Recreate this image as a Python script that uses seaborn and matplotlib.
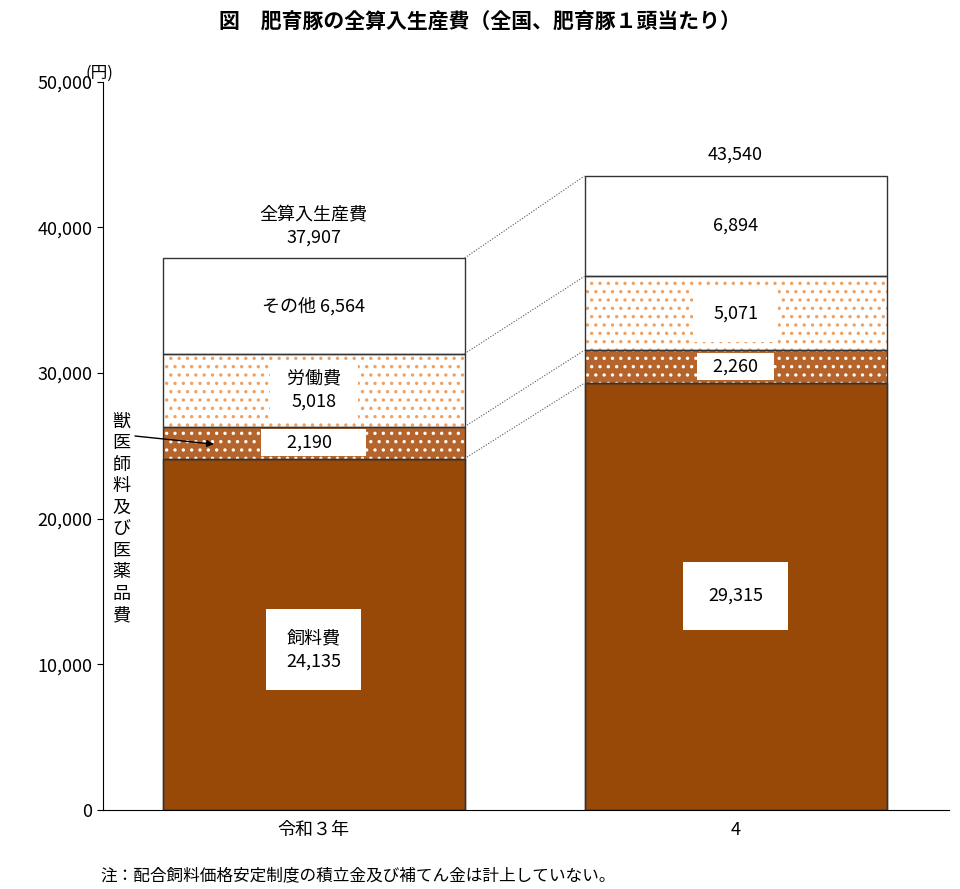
import matplotlib
matplotlib.use("Agg")
import matplotlib.pyplot as plt
import seaborn as sns
import pandas as pd
import numpy as np

plt.rcParams["font.family"] = "Noto Sans CJK JP"
plt.rcParams["hatch.linewidth"] = 1.2

years = ["令和３年", "4"]
feed = [24135, 29315]
vet = [2190, 2260]
labor = [5018, 5071]
other = [6564, 6894]
total = [37907, 43540]
yticks = [0, 10000, 20000, 30000, 40000, 50000]

fig = plt.figure(figsize=(9.6, 8.89), dpi=100)
ax = fig.add_axes([0.107, 0.0889, 0.882, 0.819])
W = 0.716
df = pd.DataFrame({"year": years, "feed": feed})
sns.barplot(data=df, x="year", y="feed", color="#984807", width=W, ax=ax,
            edgecolor="#333333", linewidth=1, saturation=1)
x = np.arange(len(years))
b1 = np.array(feed)
b2 = b1 + np.array(vet)
b3 = b2 + np.array(labor)
ax.bar(x, vet, W, bottom=b1, color="#B5652B", edgecolor="white", hatch="..", linewidth=0)
ax.bar(x, labor, W, bottom=b2, color="white", edgecolor="#F0A060", hatch="..", linewidth=0)
ax.bar(x, other, W, bottom=b3, color="white", linewidth=0)
for bot, h in [(np.zeros(2), feed), (b1, vet), (b2, labor), (b3, other)]:
    ax.bar(x, h, W, bottom=bot, fill=False, edgecolor="#333333", linewidth=1)

# connectors
for lev in [b1, b2, b3, np.array(total)]:
    ax.plot([W / 2, 1 - W / 2], [lev[0], lev[1]], ls=(0, (1, 1.5)), color="#555555", lw=0.8)

box = dict(facecolor="white", edgecolor="none", pad=3)
fs = 13
# bar 1
ax.text(0, 11000, "飼料費\n24,135", ha="center", va="center", fontsize=fs,
        bbox=dict(facecolor="white", edgecolor="none", boxstyle="square,pad=1.1"), linespacing=1.4)
ax.text(0, 25230, "　 2,190 　  ", ha="center", va="center", fontsize=fs, bbox=box)
ax.text(0, 28830, "  労働費  \n5,018", ha="center", va="center", fontsize=fs,
        bbox=dict(facecolor="white", edgecolor="none", boxstyle="square,pad=0.5"), linespacing=1.4)
ax.text(0, 34600, "その他 6,564", ha="center", va="center", fontsize=fs)
ax.text(0, 40100, "全算入生産費\n37,907", ha="center", va="center", fontsize=fs, linespacing=1.3)
# bar 2
ax.text(1, 14700, "29,315", ha="center", va="center", fontsize=fs,
        bbox=dict(facecolor="white", edgecolor="none", boxstyle="square,pad=1.4"))
ax.text(1, 30445, "   2,260   ", ha="center", va="center", fontsize=fs, bbox=box)
ax.text(1, 34100, "5,071", ha="center", va="center", fontsize=fs,
        bbox=dict(facecolor="white", edgecolor="none", boxstyle="square,pad=1.1"))
ax.text(1, 40100, "6,894", ha="center", va="center", fontsize=fs)
ax.text(1, 45000, "43,540", ha="center", va="center", fontsize=fs)

# vertical label
ax.text(-0.455, 20000, "\n".join("獣医師料及び医薬品費"), ha="center", va="center",
        fontsize=13, linespacing=1.25)
ax.annotate("", xy=(-0.23, 25100), xytext=(-0.43, 25700),
            arrowprops=dict(arrowstyle="-|>", color="black", lw=1))

ax.set_xlim(-0.5, 1.507)
ax.set_ylim(0, 50000)
ax.set_yticks(yticks)
ax.set_yticklabels([f"{v:,}" for v in yticks], fontsize=13)
ax.tick_params(axis="x", length=0, labelsize=13, pad=8)
ax.tick_params(axis="y", length=4)
ax.set_xlabel("")
ax.set_ylabel("")
for s in ["top", "right"]:
    ax.spines[s].set_visible(False)
ax.text(-0.02, 1.0, "(円)", transform=ax.transAxes, ha="left", va="bottom", fontsize=12)

fig.text(0.5, 0.975, "図　肥育豚の全算入生産費（全国、肥育豚１頭当たり）", ha="center", va="center",
         fontsize=15, fontweight="bold")
fig.text(0.105, 0.015, "注：配合飼料価格安定制度の積立金及び補てん金は計上していない。", ha="left",
         va="center", fontsize=12)
fig.savefig("out.png", dpi=100)
